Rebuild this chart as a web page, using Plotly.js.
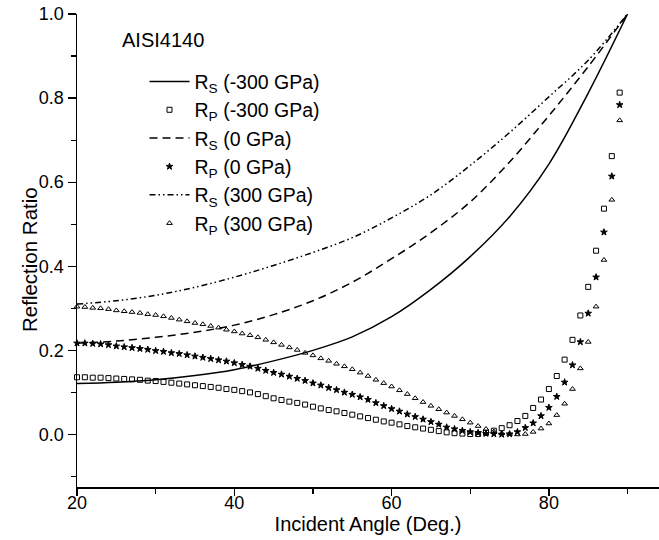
<!DOCTYPE html>
<html>
<head>
<meta charset="utf-8">
<script src="https://cdn.plot.ly/plotly-3.0.1.min.js"></script>
<style>
  html, body { margin: 0; padding: 0; background: #ffffff; }
  #chart { width: 659px; height: 540px; }
</style>
</head>
<body>
<div id="chart"></div>
<script>
// ---- Data ----
// Incident angles for the p-polarised (marker) series
const angleP = [20,21,22,23,24,25,26,27,28,29,30,31,32,33,34,35,36,37,38,39,
                40,41,42,43,44,45,46,47,48,49,50,51,52,53,54,55,56,57,58,59,
                60,61,62,63,64,65,66,67,68,69,70,71,72,73,74,75,76,77,78,79,
                80,81,82,83,84,85,86,87,88,89];

const rpNeg300 = [0.136,0.136,0.135,0.135,0.134,0.133,0.132,0.131,0.130,0.128,
                  0.127,0.125,0.123,0.121,0.119,0.117,0.115,0.113,0.111,0.108,
                  0.106,0.103,0.100,0.096,0.091,0.086,0.082,0.078,0.075,0.071,
                  0.066,0.062,0.058,0.055,0.051,0.047,0.043,0.039,0.035,0.031,
                  0.028,0.024,0.020,0.017,0.014,0.011,0.008,0.005,0.003,0.002,
                  0.001,0.001,0.004,0.009,0.015,0.022,0.032,0.044,0.063,0.083,
                  0.108,0.139,0.178,0.225,0.283,0.351,0.437,0.537,0.662,0.813];

const rp0 = [0.217,0.217,0.216,0.215,0.213,0.210,0.208,0.206,0.204,0.202,
             0.199,0.197,0.194,0.192,0.189,0.186,0.183,0.180,0.177,0.174,
             0.170,0.166,0.162,0.157,0.152,0.147,0.143,0.138,0.133,0.128,
             0.122,0.117,0.111,0.106,0.100,0.095,0.089,0.083,0.075,0.068,
             0.061,0.055,0.048,0.042,0.036,0.030,0.024,0.017,0.013,0.009,
             0.006,0.004,0.002,0.001,0.000,0.001,0.006,0.016,0.027,0.044,
             0.064,0.090,0.124,0.165,0.220,0.288,0.374,0.481,0.614,0.784];

const rp300 = [0.304,0.303,0.301,0.300,0.298,0.295,0.293,0.291,0.289,0.286,
               0.284,0.281,0.277,0.273,0.269,0.265,0.262,0.258,0.254,0.249,
               0.245,0.240,0.236,0.231,0.225,0.219,0.213,0.207,0.201,0.194,
               0.188,0.181,0.175,0.168,0.162,0.155,0.147,0.139,0.130,0.122,
               0.114,0.105,0.096,0.086,0.077,0.068,0.060,0.052,0.044,0.036,
               0.028,0.020,0.013,0.007,0.003,0.001,0.000,0.001,0.006,0.014,
               0.026,0.046,0.073,0.108,0.157,0.220,0.304,0.415,0.558,0.747];

// Incident angles for the s-polarised (line) series
const angleS = [20,25,30,35,40,45,50,55,60,65,70,75,80,85,90];
const rsNeg300 = [0.121,0.124,0.130,0.140,0.154,0.175,0.200,0.232,0.280,0.345,0.423,0.518,0.643,0.812,1.0];
const rs0      = [0.217,0.222,0.231,0.243,0.260,0.285,0.318,0.362,0.418,0.480,0.553,0.648,0.758,0.875,1.0];
const rs300    = [0.310,0.318,0.331,0.350,0.374,0.402,0.433,0.468,0.515,0.570,0.640,0.718,0.803,0.890,1.0];

const seriesNames = [
  'R<sub>S</sub> (-300 GPa)',
  'R<sub>P</sub> (-300 GPa)',
  'R<sub>S</sub> (0 GPa)',
  'R<sub>P</sub> (0 GPa)',
  'R<sub>S</sub> (300 GPa)',
  'R<sub>P</sub> (300 GPa)'
];

const xTitle = 'Incident Angle (Deg.)';
const yTitle = 'Reflection Ratio';
const label = 'AISI4140';

// ---- Styling ----
const FONT = 'Arial, "Liberation Sans", sans-serif';
const black = '#000000';

function lineTrace(x, y, name, dash) {
  return {
    x: x, y: y, name: name, type: 'scatter', mode: 'lines',
    line: { color: black, width: 1.5, dash: dash, shape: 'spline', smoothing: 1 },
    cliponaxis: false
  };
}
function markerTrace(x, y, name, symbol, size) {
  return {
    x: x, y: y, name: name, type: 'scatter', mode: 'markers',
    marker: { symbol: symbol, size: size, color: black, line: { color: black, width: 1 } },
    cliponaxis: false
  };
}

const traces = [
  lineTrace(angleS, rsNeg300, seriesNames[0], 'solid'),
  markerTrace(angleP, rpNeg300, seriesNames[1], 'square-open', 5),
  lineTrace(angleS, rs0, seriesNames[2], '8px,5px'),
  markerTrace(angleP, rp0, seriesNames[3], 'star', 5),
  lineTrace(angleS, rs300, seriesNames[4], '6px,3px,1.5px,3px,1.5px,3px'),
  markerTrace(angleP, rp300, seriesNames[5], 'triangle-up-open', 5)
];

const layout = {
  width: 659, height: 540,
  margin: { l: 77, r: 0, t: 14, b: 53, pad: 0 },
  paper_bgcolor: '#ffffff', plot_bgcolor: '#ffffff',
  font: { family: FONT, color: black, size: 18 },
  showlegend: true,
  legend: {
    x: 0.116, y: 0.898, xanchor: 'left', yanchor: 'top',
    bgcolor: 'rgba(0,0,0,0)', borderwidth: 0,
    font: { family: FONT, size: 19.5, color: black },
    tracegroupgap: 0, itemwidth: 40
  },
  xaxis: {
    range: [20, 94], tick0: 20, dtick: 20,
    ticks: 'outside', ticklen: 7, tickwidth: 1.3, tickcolor: black,
    ticklabelstandoff: -8,
    showline: true, linecolor: black, linewidth: 1.5,
    showgrid: false, zeroline: false, mirror: false,
    tickfont: { family: FONT, size: 18, color: black },
    minor: { dtick: 10, tick0: 0, ticks: 'outside', ticklen: 5, tickwidth: 1.2, tickcolor: black, showgrid: false },
    title: { text: xTitle, font: { family: FONT, size: 20, color: black }, standoff: 1 }
  },
  yaxis: {
    range: [-0.125, 1.0], tick0: 0, dtick: 0.2, tickformat: '.1f',
    ticks: 'outside', ticklen: 8, tickwidth: 1.3, tickcolor: black,
    showline: true, linecolor: black, linewidth: 1.5,
    showgrid: false, zeroline: false, mirror: false,
    tickfont: { family: FONT, size: 18, color: black },
    minor: { dtick: 0.1, tick0: 0, ticks: 'outside', ticklen: 5, tickwidth: 1.2, tickcolor: black, showgrid: false }
  },
  annotations: [
    {
      text: label, xref: 'paper', yref: 'paper',
      x: 0.074, y: 0.945, xanchor: 'left', yanchor: 'middle',
      showarrow: false, font: { family: FONT, size: 20, color: black }
    },
    {
      text: yTitle, xref: 'paper', yref: 'paper', textangle: -90,
      x: -0.0825, y: 0.482, xanchor: 'center', yanchor: 'middle',
      showarrow: false, font: { family: FONT, size: 20.5, color: black }
    }
  ]
};

Plotly.newPlot('chart', traces, layout, { displayModeBar: false, staticPlot: true });
</script>
</body>
</html>
